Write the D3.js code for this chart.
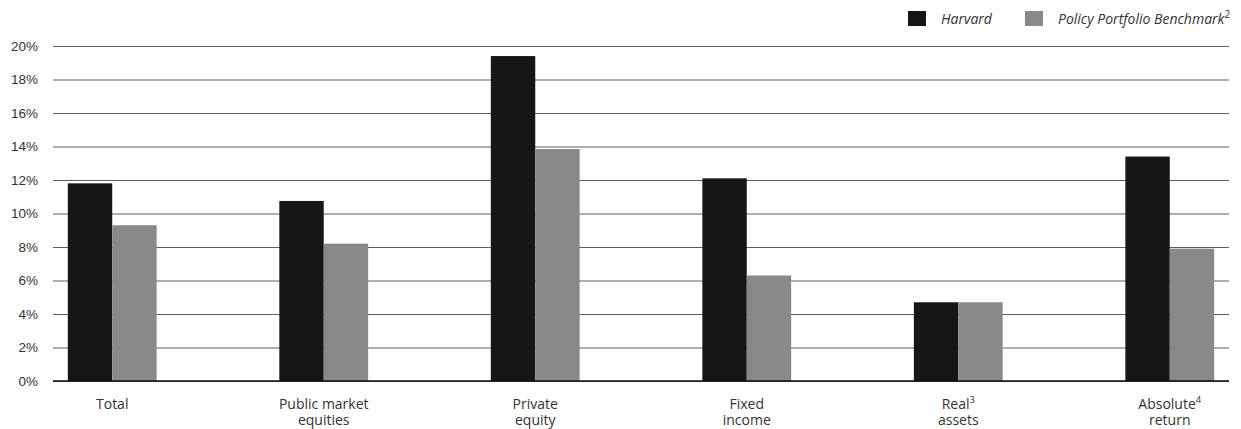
<!DOCTYPE html>
<html>
<head>
<meta charset="utf-8">
<script src="https://cdn.jsdelivr.net/npm/d3@7"></script>
<style>
  html, body { margin: 0; padding: 0; background: #fff; }
  svg { display: block; font-family: "Open Sans", "DejaVu Sans", sans-serif; }
</style>
</head>
<body>
<svg id="chart" width="1241" height="429"></svg>
<script>
// Asset-class returns, in percent
const categories = ["Total", "Public market equities", "Private equity", "Fixed income", "Real assets", "Absolute return"];
const categoryLines = [["Total"], ["Public market", "equities"], ["Private", "equity"], ["Fixed", "income"], ["Real|3", "assets"], ["Absolute|4", "return"]];
const seriesNames = ["Harvard", "Policy Portfolio Benchmark"];
const harvard = [11.8, 10.75, 19.4, 12.1, 4.7, 13.4];
const benchmark = [9.3, 8.2, 13.85, 6.3, 4.7, 7.9];
const yTicks = [0, 2, 4, 6, 8, 10, 12, 14, 16, 18, 20];

const svg = d3.select("#chart");
const plot = { left: 53, right: 1229, top: 46, bottom: 381 };

const y = d3.scaleLinear().domain([0, 20]).range([plot.bottom, plot.top]);
const x0 = d3.scaleBand().domain(categories).range([plot.left, plot.right]).paddingInner(0.58).paddingOuter(0.07);
const x1 = d3.scaleBand().domain(seriesNames).range([0, x0.bandwidth()]);
const colors = { "Harvard": "#161616", "Policy Portfolio Benchmark": "#898989" };

// Gridlines with tick labels
const yAxis = d3.axisLeft(y).tickValues(yTicks).tickFormat(d => d + "%")
  .tickSize(-(plot.right - plot.left)).tickPadding(15);
const gy = svg.append("g").attr("transform", `translate(${plot.left},0)`).call(yAxis);
gy.select(".domain").remove();
gy.selectAll(".tick line").attr("stroke", "#5e5e5e").attr("stroke-width", 1);
gy.selectAll(".tick text").attr("fill", "#333").attr("font-size", 13.5);

// Bars
const rows = categories.map((c, i) => ({ cat: c, vals: [ { s: seriesNames[0], v: harvard[i] }, { s: seriesNames[1], v: benchmark[i] } ] }));
const groups = svg.append("g").selectAll("g").data(rows).join("g")
  .attr("transform", d => `translate(${x0(d.cat)},0)`);
groups.selectAll("rect").data(d => d.vals).join("rect")
  .attr("x", d => x1(d.s))
  .attr("width", x1.bandwidth())
  .attr("y", d => y(d.v))
  .attr("height", d => y(0) - y(d.v))
  .attr("fill", d => colors[d.s]);

// Baseline
svg.append("line").attr("x1", plot.left).attr("x2", plot.right).attr("y1", y(0)).attr("y2", y(0))
  .attr("stroke", "#111").attr("stroke-width", 1.5);

// Category labels (a "|n" suffix marks a footnote superscript)
const labels = svg.append("g").selectAll("text").data(categories).join("text")
  .attr("text-anchor", "middle")
  .attr("font-size", 14)
  .attr("fill", "#333");
labels.each(function(d, i) {
  const t = d3.select(this);
  const cx = x0(d) + x0.bandwidth() / 2;
  categoryLines[i].forEach((line, j) => {
    const [txt, sup] = line.split("|");
    t.append("tspan").attr("x", cx).attr("y", 408.5 + j * 16).text(txt);
    if (sup) t.append("tspan").attr("font-size", 9.5).attr("dy", -6).text(sup);
  });
});

// Legend
const legend = svg.append("g").attr("font-size", 14).attr("font-style", "italic").attr("fill", "#333");
const legendX = [908, 1025];
seriesNames.forEach((s, i) => {
  legend.append("rect").attr("x", legendX[i]).attr("y", 11).attr("width", 18).attr("height", 15).attr("fill", colors[s]);
  const t = legend.append("text").attr("x", legendX[i] + 33).attr("y", 24).text(s);
  if (i === 1) t.append("tspan").attr("font-size", 10).attr("font-style", "normal").attr("dy", -6).text("2");
});
</script>
</body>
</html>
